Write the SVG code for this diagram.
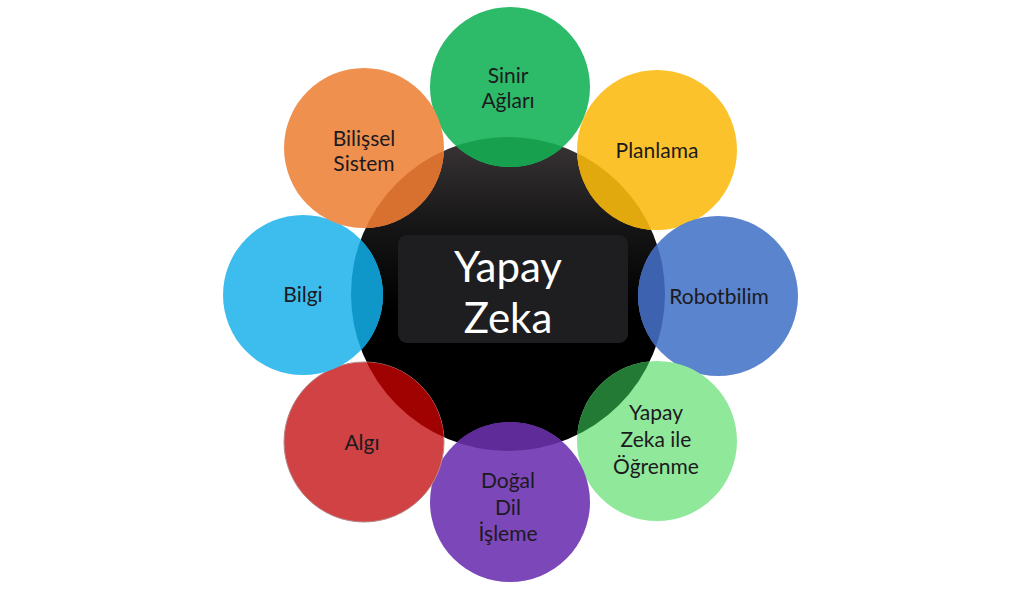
<svg xmlns="http://www.w3.org/2000/svg" width="1026" height="595" viewBox="0 0 1026 595">
  <defs>
    <linearGradient id="hubGrad" x1="0" y1="0" x2="0" y2="1">
      <stop offset="0" stop-color="#3a3538"/>
      <stop offset="0.3" stop-color="#141414"/>
      <stop offset="0.55" stop-color="#000000"/>
      <stop offset="1" stop-color="#000000"/>
    </linearGradient>
    <clipPath id="hubClip">
      <circle cx="508" cy="294" r="157"/>
    </clipPath>
  </defs>
  <style>
    .lbl { font-family: Lato, "Open Sans", "DejaVu Sans", sans-serif; font-size: 21px; fill: #1c1a20; text-anchor: middle; }
    .hubtxt { font-family: Lato, "Open Sans", "DejaVu Sans", sans-serif; font-size: 42px; fill: #ffffff; text-anchor: middle; }
  </style>
  <rect width="1026" height="595" fill="#ffffff"/>

  <g id="hub">
    <circle cx="508" cy="294" r="157" fill="url(#hubGrad)"/>
    <rect x="398" y="235" width="230" height="108" rx="9" fill="#1e1d20"/>
    <text class="hubtxt" x="508" y="282">Yapay</text>
    <text class="hubtxt" x="508" y="333">Zeka</text>
  </g>

  <g id="sinir-aglari">
    <circle cx="510" cy="87" r="80" fill="#2dba69"/>
    <circle cx="510" cy="87" r="80" fill="#17a14f" clip-path="url(#hubClip)"/>
    <text class="lbl" x="508" y="83">Sinir</text>
    <text class="lbl" x="508" y="108">Ağları</text>
  </g>

  <g id="planlama">
    <circle cx="657" cy="150" r="80" fill="#fbc22b"/>
    <circle cx="657" cy="150" r="80" fill="#e2a90f" clip-path="url(#hubClip)"/>
    <text class="lbl" x="657" y="158">Planlama</text>
  </g>

  <g id="robotbilim">
    <circle cx="718" cy="296" r="80" fill="#5b84cf"/>
    <circle cx="718" cy="296" r="80" fill="#3c62b0" clip-path="url(#hubClip)"/>
    <text class="lbl" x="719" y="304">Robotbilim</text>
  </g>

  <g id="ogrenme">
    <circle cx="657" cy="441" r="80" fill="#90e89b"/>
    <circle cx="657" cy="441" r="80" fill="#237a35" clip-path="url(#hubClip)"/>
    <text class="lbl" x="656" y="420">Yapay</text>
    <text class="lbl" x="656" y="447">Zeka ile</text>
    <text class="lbl" x="656" y="474">Öğrenme</text>
  </g>

  <g id="dogal-dil">
    <circle cx="510" cy="502" r="80" fill="#7c47b8"/>
    <circle cx="510" cy="502" r="80" fill="#5f2b99" clip-path="url(#hubClip)"/>
    <text class="lbl" x="508" y="488">Doğal</text>
    <text class="lbl" x="508" y="515">Dil</text>
    <text class="lbl" x="508" y="541">İşleme</text>
  </g>

  <g id="algi">
    <circle cx="364" cy="442" r="80" fill="#d04243" stroke="#b8888a" stroke-width="1"/>
    <circle cx="364" cy="442" r="80" fill="#a00202" clip-path="url(#hubClip)"/>
    <text class="lbl" x="362" y="450">Algı</text>
  </g>

  <g id="bilgi">
    <circle cx="303" cy="295" r="80" fill="#3cbdee"/>
    <circle cx="303" cy="295" r="80" fill="#0e97c8" clip-path="url(#hubClip)"/>
    <text class="lbl" x="303" y="302">Bilgi</text>
  </g>

  <g id="bilissel-sistem">
    <circle cx="364" cy="148" r="80" fill="#f0904f"/>
    <circle cx="364" cy="148" r="80" fill="#d8712f" clip-path="url(#hubClip)"/>
    <text class="lbl" x="364" y="146">Bilişsel</text>
    <text class="lbl" x="364" y="171">Sistem</text>
  </g>

  <g id="connectors"/>
</svg>
